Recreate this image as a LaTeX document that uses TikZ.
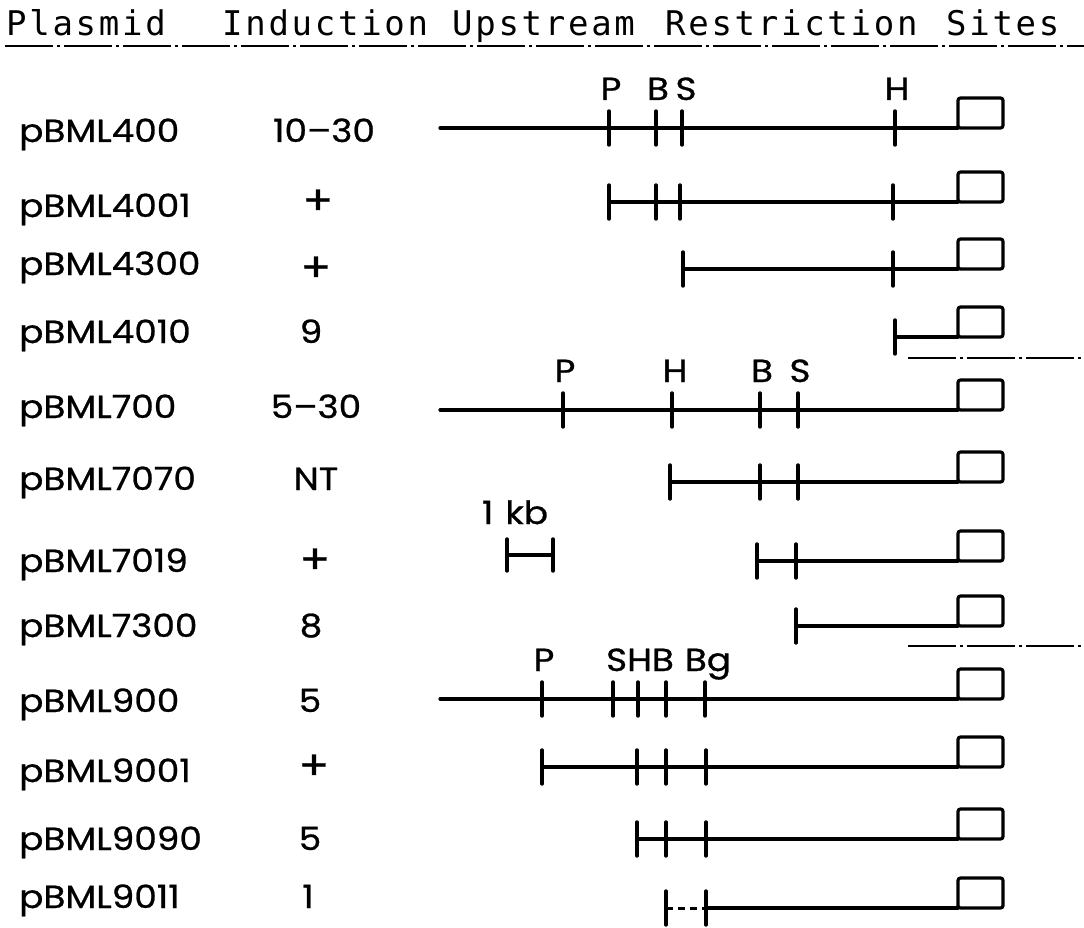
\documentclass[tikz,border=0pt]{standalone}
\usepackage{fontspec}
\newfontfamily\labfont[FakeStretch=1.12,FakeBold=0.8]{Poppins}
\newfontfamily\headfont[LetterSpace=8]{DejaVu Sans Mono}
\tikzset{
  gl/.style={line width=3.2pt, line cap=round},
  gbox/.style={line width=3.2pt, rounded corners=2.5pt},
  tk/.style={line width=3.4pt, line cap=round},
  lbl/.style={font=\labfont\fontsize{32}{32}\selectfont, inner sep=0pt, anchor=base west},
  val/.style={font=\labfont\fontsize{32}{32}\selectfont, inner sep=0pt, anchor=base},
  plus/.style={font=\labfont\fontsize{40}{40}\selectfont, inner sep=0pt, anchor=center},
  sitelbl/.style={font=\labfont\fontsize{32}{32}\selectfont, inner sep=0pt, anchor=base},
  head/.style={font=\headfont\fontsize{34}{34}\selectfont, inner sep=0pt, anchor=base west},
  sepline/.style={line width=2.6pt, dash pattern=on 48pt off 4pt on 3pt off 4pt},
}
\newcommand\gline[3]{%
  \coordinate (#1a) at (#2,#3);
  \coordinate (#1b) at (958,#3);
  \draw[gl] (#1a) -- (#1b);
  \draw[gbox] (#1b) rectangle ++(45,-30);
}
\newcommand\gsite[3]{%
  \coordinate (#1) at (#2,#3);
  \draw[tk] ([yshift=17pt]#1) -- ([yshift=-17pt]#1);
}
\begin{document}
\begin{tikzpicture}[x=1pt,y=-1pt]
\useasboundingbox (0,0) rectangle (1084,928);
% header
\node[head] (hp) at (6,36) {Plasmid};
\node[head] (hi) at (222,36) {Induction};
\node[head] (hu) at (452,36) {Upstream};
\node[head] (hr) at (665,36) {Restriction};
\node[head] (hs) at (946,36) {Sites};
\coordinate (ula) at (5,46);
\coordinate (ulb) at (1084,46);
\draw[sepline] (ula) -- (ulb);

% row labels and values
\node[lbl] (l1) at (19,142) {pBML400};   \node[val] (v1) at (324,142) {10–30};
\node[lbl] (l2) at (19,217) {pBML4001};  \node[plus] (v2) at (318,202) {+};
\node[lbl] (l3) at (19,275) {pBML4300};  \node[plus] (v3) at (316,269) {+};
\node[lbl] (l4) at (19,343) {pBML4010};  \node[val] (v4) at (311,343) {9};
\node[lbl] (l5) at (19,418) {pBML700};   \node[val] (v5) at (316,418) {5–30};
\node[lbl] (l6) at (19,490) {pBML7070};  \node[val] (v6) at (316,490) {NT};
\node[lbl] (l7) at (19,572) {pBML7019};  \node[plus] (v7) at (315,561) {+};
\node[lbl] (l8) at (19,637) {pBML7300};  \node[val] (v8) at (311,637) {8};
\node[lbl] (l9) at (19,712) {pBML900};   \node[val] (v9) at (310,712) {5};
\node[lbl] (l10) at (19,782) {pBML9001}; \node[plus] (v10) at (314,767) {+};
\node[lbl] (l11) at (19,850) {pBML9090}; \node[val] (v11) at (310,850) {5};
\node[lbl] (l12) at (19,908) {pBML9011}; \node[val] (v12) at (308,908) {1};

% row 1
\gline{r1}{440}{128}
\gsite{r1p}{609}{128}\gsite{r1bb}{656}{128}\gsite{r1s}{682}{128}\gsite{r1h}{895}{128}
\node[sitelbl] (t1p) at (611,100) {P};
\node[sitelbl] (t1b) at (658,100) {B};
\node[sitelbl] (t1s) at (686,100) {S};
\node[sitelbl] (t1h) at (897,100) {H};
% row 2
\gline{r2}{609}{202}
\gsite{r2p}{609}{202}\gsite{r2bb}{656}{202}\gsite{r2s}{680}{202}\gsite{r2h}{893}{202}
% row 3
\gline{r3}{683}{269}
\gsite{r3s}{683}{269}\gsite{r3h}{893}{269}
% row 4
\gline{r4}{895}{337}
\gsite{r4h}{895}{337}
% separator 1
\coordinate (s1a) at (908,358);
\coordinate (s1b) at (1084,358);
\draw[sepline] (s1a) -- (s1b);
% row 5
\gline{r5}{440}{410}
\gsite{r5p}{563}{410}\gsite{r5h}{672}{410}\gsite{r5bb}{760}{410}\gsite{r5s}{798}{410}
\node[sitelbl] (t5p) at (565,382) {P};
\node[sitelbl] (t5h) at (675,382) {H};
\node[sitelbl] (t5b) at (762,382) {B};
\node[sitelbl] (t5s) at (800,382) {S};
% row 6
\gline{r6}{670}{482}
\gsite{r6h}{670}{482}\gsite{r6bb}{760}{482}\gsite{r6s}{798}{482}
% scale bar
\coordinate (kba) at (507,555);
\coordinate (kbb) at (553,555);
\draw[gl] (kba) -- (kbb);
\draw[tk] ([yshift=16pt]kba) -- ([yshift=-16pt]kba);
\draw[tk] ([yshift=16pt]kbb) -- ([yshift=-16pt]kbb);
\node[sitelbl] (kbt) at (515,524) {1\hspace{12pt}kb};
% row 7
\gline{r7}{757}{561}
\gsite{r7bb}{757}{561}\gsite{r7s}{796}{561}
% row 8
\gline{r8}{796}{626}
\gsite{r8s}{796}{626}
% separator 2
\coordinate (s2a) at (908,646);
\coordinate (s2b) at (1084,646);
\draw[sepline] (s2a) -- (s2b);
% row 9
\gline{r9}{440}{699}
\gsite{r9p}{542}{699}\gsite{r9s}{613}{699}\gsite{r9h}{638}{699}\gsite{r9bb}{666}{699}\gsite{r9g}{705}{699}
\node[sitelbl] (t9p) at (544,671) {P};
\node[sitelbl] (t9shb) at (640,671) {SHB};
\node[sitelbl] (t9g) at (708,671) {Bg};
% row 10
\gline{r10}{542}{767}
\gsite{r10p}{542}{767}\gsite{r10h}{637}{767}\gsite{r10bb}{666}{767}\gsite{r10g}{706}{767}
% row 11
\gline{r11}{637}{839}
\gsite{r11h}{637}{839}\gsite{r11bb}{666}{839}\gsite{r11g}{706}{839}
% row 12
\coordinate (r12a) at (666,908);
\gsite{r12bb}{666}{908}\gsite{r12g}{706}{908}
\draw[line width=3pt, dash pattern=on 7pt off 5pt] (r12a) -- (r12g);
\coordinate (r12b) at (958,908);
\draw[gl] (r12g) -- (r12b);
\draw[gbox] (r12b) rectangle ++(45,-30);
\end{tikzpicture}
\end{document}
